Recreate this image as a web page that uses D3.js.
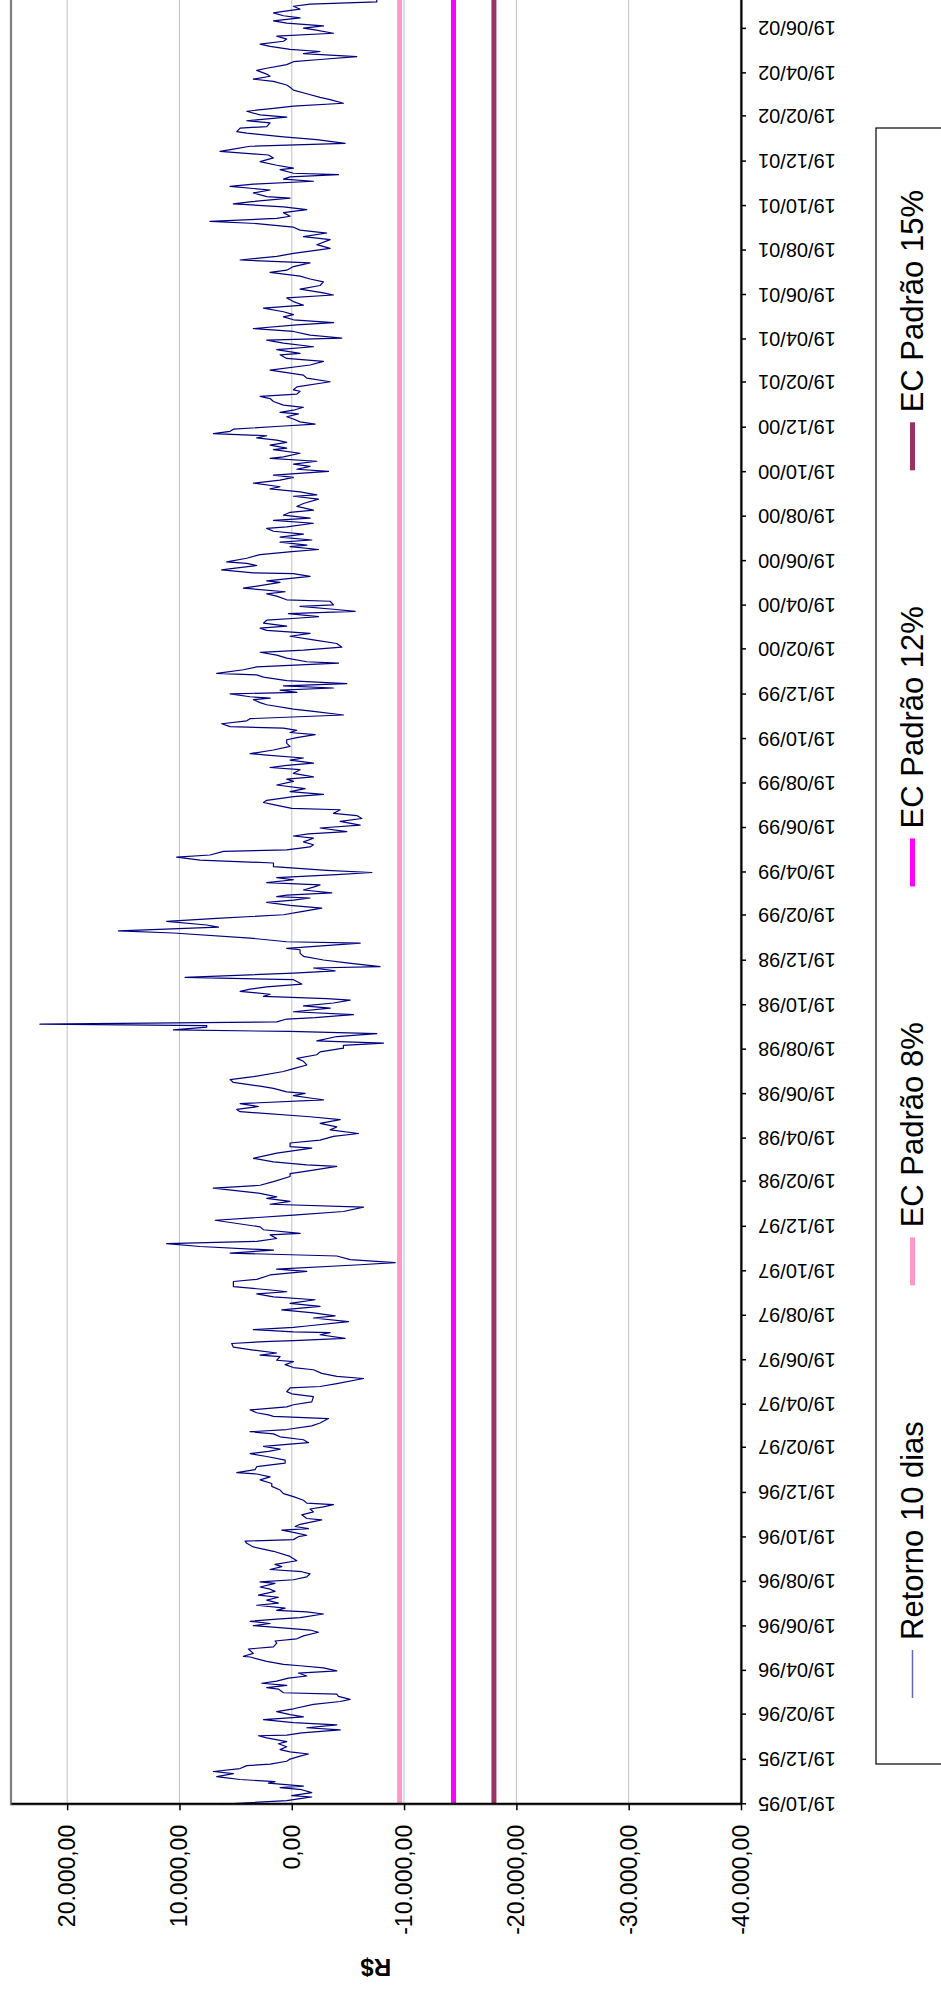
<!DOCTYPE html>
<html>
<head>
<meta charset="utf-8">
<script src="https://cdn.jsdelivr.net/npm/d3@7"></script>
<style>
  html, body { margin: 0; padding: 0; background: #fff; }
  svg { display: block; }
  text { font-family: "Liberation Sans", Arial, sans-serif; fill: #000; }
</style>
</head>
<body>
<svg id="chart" width="941" height="1989"></svg>
<script>
// ---- Data -------------------------------------------------------------
// 10-day return (R$), sampled by calendar-day offset from the first date.
const startDate = "1995-10-19";
const dayOffset = [
  0,5,8,10,12,16,20,23,25,29,31,34,38,42,45,49,53,55,59,62,66,69,72,75,79,83,86,91,94,95,98,102,105,109,112,116,120,123,127,131,137,141,144,148,151,153,158,160,163,166,169,173,176,180,183,187,190,192,196,202,203,207,213,216,221,224,227,231,236,239,241,245,248,251,254,256,261,264,266,269,273,276,280,284,287,292,295,298,303,305,308,312,316,319,322,326,329,334,340,347,
  353,358,361,363,367,369,373,376,378,381,384,390,392,397,401,405,408,411,413,417,422,426,431,436,440,445,449,453,455,459,463,468,472,477,481,484,487,491,494,496,500,504,508,511,514,519,523,529,532,534,537,541,545,548,552,559,563,566,571,573,577,584,587,591,596,599,603,607,609,614,616,619,623,627,632,635,636,639,644,647,648,651,654,656,662,667,670,674,678,683,687,692,696,700,703,705,
  710,717,720,726,731,734,740,743,747,752,756,760,765,769,772,776,781,783,788,792,801,808,813,819,823,827,831,833,838,845,849,854,861,865,869,875,877,881,886,891,893,900,902,907,911,916,920,925,929,934,939,943,950,953,957,961,966,968,972,975,977,982,985,990,994,998,1005,1009,1014,1019,1023,1028,1032,1037,1041,1044,1047,1053,1057,1060,1062,1066,1068,1070,1073,1077,1079,1083,1087,1092,1095,1099,1103,1105,1108,1111,1115,1118,1121,1125,1131,1134,1140,1143,1147,1149,1154,1158,1163,1167,1172,1174,1181,1183,1188,1195,1198,1203,1206,1211,1215,1220,1224,1229,1233,1237,1240,
  1243,1245,1247,1250,1254,1258,1261,1264,1268,1271,1275,1278,1281,1286,1291,1295,1299,1302,1307,1309,1313,1316,1320,1325,1328,1331,1334,1339,1343,1348,1352,1356,1359,1364,1366,1371,1374,1377,1382,1385,1389,1393,1398,1403,1406,1409,1414,1419,1422,1425,1428,1432,1435,1439,1441,1446,1451,1455,1460,1463,1467,1470,1473,1476,1478,1482,1486,1489,1494,1499,1502,1508,1511,1515,1517,1519,1523,1525,1528,1531,1534,1537,1541,1546,1549,1551,1556,1560,1565,1567,1572,1576,1580,1583,
  1587,1592,1597,1602,1606,1610,1613,1616,1620,1624,1627,1629,1633,1636,1639,1643,1645,1650,1652,1657,1660,1663,1668,1670,1676,1678,1684,1688,1689,1693,1695,1699,1702,1704,1709,1714,1718,1721,1725,1727,1731,1734,1738,1742,1746,1750,1752,1757,1761,1764,1768,1772,1775,1780,1784,1790,1794,1796,1800,1804,1807,1812,1816,1820,1823,1828,1831,1835,1838,1842,1846,1848,1853,1858,1860,1864,1868,1871,1874,1877,1880,1883,1886,1890,1893,1896,1900,1903,1907,1909,1912,1916,1919,1924,1928,1931,1934,1938,1940,
  1944,1951,1956,1960,1967,1974,1979,1983,1988,1990,1995,1999,2004,2008,2011,2015,2020,2024,2029,2032,2036,2040,2043,2047,2052,2056,2061,2066,2070,2073,2078,2083,2088,2092,2096,2101,2104,2109,2114,2118,2123,2127,2134,2139,2146,2150,2155,2159,2163,2168,2171,2175,2178,2183,2187,2191,2195,2198,2203,2205,2210,2214,2219,2222,2226,2229,2232,2235,2237,2242,2244,2248,2253,2258,2262,2267,2270,2274,2278,2283,2287,2292,2294,2299,2301,2306,2309,2314,2317,2322,2326,2329,2333,2338,2341,2346,2351,2355,2358,2363,2366,2370,2373,2378,2381,2386,2390,2393,2397,2401,2404,2407,2411,2414,2418,2421,2425,2429,2434,2436,2439,2443,2446,2450,2453,2457,2459,2462,2466,2469,2472,2476
];
const retorno10Dias = [
  6390,450,-890,-1780,0,-1780,-890,1040,-1040,2080,1490,4600,6680,5200,6980,4600,4010,1930,450,150,-740,-1490,150,1040,450,1190,450,2230,2970,450,-890,-4310,-1340,-4010,-150,2520,-1040,150,1340,-150,-1930,-4310,-5200,-4160,-4010,740,1190,2230,450,2670,1340,300,-1340,-590,-4010,-2820,-740,740,2230,3710,4310,3420,3860,1630,1340,1490,-450,-1040,-2380,-1630,0,3420,1930,3710,1340,-740,-2820,-1340,1340,590,3120,1190,2230,1190,2970,1490,1930,2820,1490,2820,-150,-1340,-1630,-890,1930,890,1490,-450,150,1630,
  3420,4010,4160,-150,-590,-1340,-150,890,-1490,-300,-740,-2670,-1340,-890,-1930,-1630,-2820,-3710,-1340,-1040,-150,740,1040,1780,1780,2820,1930,3120,4900,3270,3120,590,590,2230,3710,2080,1040,2520,150,-1490,-1040,1040,1630,3710,450,-1780,-2520,-3270,1630,2080,3120,3710,450,-150,-1780,-1930,0,450,150,-2520,-4010,-6390,-4010,-2670,-1930,-150,590,-150,1340,1040,2820,1340,3420,5200,5350,1930,-150,-4750,-2520,-3420,-150,3420,-150,-1340,-5050,-1930,-3860,-1930,890,-2520,150,-2080,1630,3120,450,1630,
  5200,5200,3120,1930,-1340,1340,-6090,-9210,-5200,-4010,5490,1630,8170,11140,3120,1340,1930,-740,2520,2820,6830,-150,-4600,-6390,1930,150,2230,1340,2820,6980,2820,1630,150,150,-1630,-4010,-1340,1630,3420,1930,1340,-1780,150,150,-2520,-3710,-5940,-3420,-4010,-2520,-4310,-1630,4600,4900,2970,4600,-2820,-1930,-150,-1190,450,1630,2820,5200,5490,3420,740,-150,-1340,-1040,-450,-2230,-2520,-4600,-4600,-8170,-2230,-4010,-7570,150,10540,7570,7570,22420,1340,450,-2080,-5490,-150,-3420,-1040,-3710,-5200,-3120,2520,1930,4600,3710,2230,-890,-150,9500,-150,-3860,-1930,-7870,-4900,-2820,-1040,-740,-740,450,-6090,450,3710,10540,15440,6530,7570,11140,6680,740,-740,-2670,150,2230,-150,
  -1630,1340,450,-3560,-1040,-1930,-2520,2230,-150,1340,-4010,-7130,-3120,1630,1630,8170,10250,7280,6090,450,-1630,-1930,-1040,-1930,-150,-1490,-4900,-2520,-6090,-4310,-6240,-5790,-3710,-4310,0,1630,2520,2230,-150,-2820,150,-1190,1340,-150,450,-1930,-150,-740,1930,450,-1930,150,-1040,2230,3710,1630,150,450,450,-450,-2080,150,-450,740,5490,6240,4010,3710,-4600,-1930,-150,2230,2820,3420,1930,3710,5490,-450,1040,-3710,740,-4900,450,2520,3120,6680,4310,3120,-4160,-1340,450,1340,2820,-1040,
  -4460,-4010,-1930,150,-1630,2230,2820,450,2520,2230,-740,-2380,300,-5640,-3710,-740,-3710,-3420,450,1340,2230,590,4310,3420,1040,2230,-1630,-150,3420,6240,5200,3120,4010,5790,4010,2820,0,-2380,150,-1340,1040,-1780,1040,-1040,1630,2230,450,-1930,1630,-1630,740,150,-1930,-450,-1040,-2380,-150,-2230,-740,1930,1040,3420,1040,-150,1630,-3270,-450,-1630,-150,-2230,1930,740,-740,1630,450,1930,450,1340,3120,2230,6980,5490,5200,1040,-2080,-740,-150,450,-590,1040,-150,-1040,740,1630,1930,2820,-450,-740,-150,
  -450,-3420,-1340,-1040,1930,-1630,-2820,450,1040,-740,1340,-1930,740,2230,-4460,-1630,-150,3420,-450,-3710,-150,740,-150,740,2520,-1040,-150,450,-3710,-2820,-740,-2520,-2820,-1630,-740,1930,450,-150,-1630,4600,1340,-150,-3420,-2230,-3420,-1040,-3120,-740,-150,3120,7280,1340,150,740,-1340,740,5200,3560,150,2230,3420,1930,5490,3420,-1930,740,150,-4160,-150,1040,-150,1340,2820,1630,2080,6390,5200,3710,-4750,-2230,740,4010,4900,4600,2230,1930,4010,450,2820,4010,1630,-150,-4600,-3420,-2520,-1340,-150,150,450,1630,3420,1930,2230,3120,2230,450,-150,-2520,-5790,-1040,-2520,150,1930,2820,740,450,1340,-3710,-1930,-1040,-2820,450,1630,-740,740,1630,740,-740,-150,-1630,-7570,-7570
];

// Capital requirement levels (EC) drawn as flat reference series
const ecPadrao8 = -9600;
const ecPadrao12 = -14400;
const ecPadrao15 = -18000;

const seriesNames = ["Retorno 10 dias", "EC Padrão 8%", "EC Padrão 12%", "EC Padrão 15%"];
const seriesColors = ["#000080", "#FF99CC", "#FF00FF", "#993366"];

// Axis settings
const valueDomain = [-40000, 25000];
const valueTicks = [-40000, -30000, -20000, -10000, 0, 10000, 20000];
const dateDomain = ["1995-10-19", "2002-08-19"];
const dateTickCount = 41;           // one label every two months, on the 19th
const axisTitle = "R$";

// ---- Layout (chart drawn landscape, then turned a quarter counter-clockwise)
const W = 1989, H = 941;
const plot = { left: 184.7, right: 2004.6, top: 11, bottom: 741 };

const svg = d3.select("#chart");
const g = svg.append("g").attr("transform", `translate(0,${W}) rotate(-90)`);

const parseDate = d3.utcParse("%Y-%m-%d");
const t0 = parseDate(startDate);

const x = d3.scaleUtc()
  .domain(dateDomain.map(parseDate))
  .range([plot.left, plot.right]);
const y = d3.scaleLinear()
  .domain(valueDomain)
  .range([plot.bottom, plot.top]);

const ptBR = d3.formatLocale({ decimal: ",", thousands: ".", grouping: [3], currency: ["R$", ""], minus: "-" });
const fmtValue = ptBR.format(",.2f");
const fmtDate = d3.utcFormat("%d/%m/%y");

const dateTicks = d3.range(dateTickCount).map(i => d3.utcMonth.offset(t0, 2 * i));

// Clip region for the plot
g.append("clipPath").attr("id", "plotClip")
  .append("rect")
  .attr("x", plot.left).attr("y", plot.top)
  .attr("width", plot.right - plot.left).attr("height", plot.bottom - plot.top);

// Gridlines
g.append("g")
  .selectAll("line")
  .data(valueTicks)
  .join("line")
  .attr("x1", plot.left).attr("x2", plot.right)
  .attr("y1", d => y(d)).attr("y2", d => y(d))
  .attr("stroke", "#c0c0c0").attr("stroke-width", 1);

// Plot area frame
g.append("rect")
  .attr("x", plot.left).attr("y", plot.top)
  .attr("width", plot.right - plot.left).attr("height", plot.bottom - plot.top)
  .attr("fill", "none").attr("stroke", "#808080").attr("stroke-width", 2.2);

// Series
const points = dayOffset.map((d, i) => ({ date: d3.utcDay.offset(t0, d), value: retorno10Dias[i] }));
const firstDate = points[0].date, lastDate = points[points.length - 1].date;

const line = d3.line().x(d => x(d.date)).y(d => y(d.value));
const plotLayer = g.append("g").attr("clip-path", "url(#plotClip)");

plotLayer.append("path")
  .datum(points)
  .attr("d", line)
  .attr("fill", "none")
  .attr("stroke", seriesColors[0])
  .attr("stroke-width", 1.2)
  .attr("stroke-linejoin", "round");

const ecLevels = [ecPadrao8, ecPadrao12, ecPadrao15];
ecLevels.forEach((lvl, i) => {
  plotLayer.append("path")
    .datum([{ date: firstDate, value: lvl }, { date: lastDate, value: lvl }])
    .attr("d", line)
    .attr("fill", "none")
    .attr("stroke", seriesColors[i + 1])
    .attr("stroke-width", 5);
});

// Value axis
const yAxis = g.append("g")
  .attr("transform", `translate(${plot.left},0)`)
  .call(d3.axisLeft(y).tickValues(valueTicks).tickFormat(fmtValue)
    .tickSize(6).tickSizeOuter(0).tickPadding(14.5));
yAxis.select(".domain").attr("stroke", "#000").attr("stroke-width", 2);
yAxis.selectAll(".tick line").attr("stroke", "#000").attr("stroke-width", 1.5);
yAxis.selectAll("text").attr("font-size", 23).attr("font-family", "Liberation Sans, Arial, sans-serif");

// Date axis
const xAxis = g.append("g")
  .attr("transform", `translate(0,${plot.bottom})`)
  .call(d3.axisBottom(x).tickValues(dateTicks).tickFormat(fmtDate)
    .tickSize(5).tickSizeOuter(0));
xAxis.select(".domain").attr("stroke", "#000").attr("stroke-width", 2);
xAxis.selectAll(".tick line").attr("stroke", "#000").attr("stroke-width", 1.5);
xAxis.selectAll("text")
  .attr("font-size", 20)
  .attr("font-family", "Liberation Sans, Arial, sans-serif")
  .attr("text-anchor", "end")
  .attr("x", -17).attr("y", 0).attr("dy", "0.35em")
  .attr("transform", "rotate(-90)");

// Axis title
g.append("text")
  .attr("x", 22).attr("y", (plot.top + plot.bottom) / 2)
  .attr("transform", `rotate(-90,22,${(plot.top + plot.bottom) / 2})`)
  .attr("text-anchor", "middle").attr("dy", "0.35em")
  .attr("font-size", 24).attr("font-weight", "bold")
  .text(axisTitle);

// Legend
const legend = { left: 225, right: 1861, top: 876, bottom: 1010, midY: 912.5 };
g.append("rect")
  .attr("x", legend.left).attr("y", legend.top)
  .attr("width", legend.right - legend.left).attr("height", legend.bottom - legend.top)
  .attr("fill", "#fff").attr("stroke", "#000").attr("stroke-width", 1.2);

const legendFont = 31, sampleLen = 48, sampleGap = 10;
const legendTmp = g.append("text").attr("font-size", legendFont);
const textW = seriesNames.map(n => { legendTmp.text(n); return legendTmp.node().getComputedTextLength(); });
legendTmp.remove();
const entryW = textW.map(w => sampleLen + sampleGap + w);
const firstStart = 291, lastEnd = 1799;
const spacing = (lastEnd - firstStart - d3.sum(entryW)) / (seriesNames.length - 1);
let cursor = firstStart;
seriesNames.forEach((name, i) => {
  const eg = g.append("g");
  eg.append("line")
    .attr("x1", cursor).attr("x2", cursor + sampleLen)
    .attr("y1", legend.midY).attr("y2", legend.midY)
    .attr("stroke", i === 0 ? "#6666b3" : seriesColors[i])
    .attr("stroke-width", i === 0 ? 1.5 : 5);
  eg.append("text")
    .attr("x", cursor + sampleLen + sampleGap).attr("y", legend.midY)
    .attr("dy", "0.35em").attr("font-size", legendFont)
    .text(name);
  cursor += entryW[i] + spacing;
});
</script>
</body>
</html>
